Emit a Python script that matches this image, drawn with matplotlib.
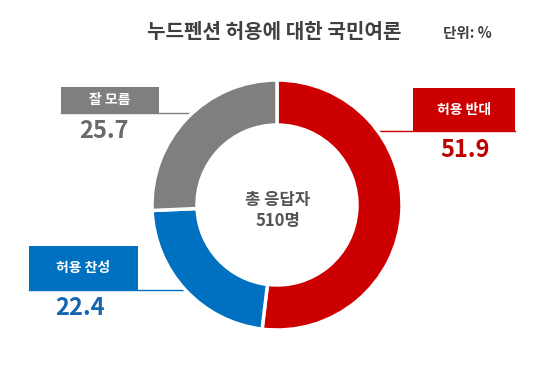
import matplotlib.pyplot as plt
from matplotlib.patches import Rectangle

plt.rcParams['font.family'] = ['Noto Sans CJK KR', 'DejaVu Sans']

title = "누드펜션 허용에 대한 국민여론"
unit = "단위: %"
categories = ["허용 반대", "허용 찬성", "잘 모름"]
values = [51.9, 22.4, 25.7]
colors = ["#cc0000", "#0070c0", "#7f7f7f"]
num_colors = ["#c00000", "#1565b0", "#6a6a6a"]
center_text = ["총 응답자", "510명"]

W, H = 550, 366
fig = plt.figure(figsize=(W / 100, H / 100), dpi=100)
ax = fig.add_axes([0, 0, 1, 1])


def Y(y):
    # image pixel row -> plot coordinate
    return H - y


cx, cy, r = 277, Y(205), 125
ax.pie(values, colors=colors, startangle=90, counterclock=False,
       center=(cx, cy), radius=r,
       wedgeprops=dict(width=45, edgecolor="white", linewidth=2.5))
ax.set_xlim(0, W)
ax.set_ylim(0, H)
ax.set_aspect("equal")
ax.axis("off")

ax.text(274, Y(32), title, ha="center", va="center", fontsize=14.5,
        fontweight="bold", color="#404040")
ax.text(467, Y(33), unit, ha="center", va="center", fontsize=10.5,
        fontweight="bold", color="#404040")

ax.text(278, Y(200), center_text[0], ha="center", va="center",
        fontsize=12, fontweight="bold", color="#555555")
ax.text(278, Y(221), center_text[1], ha="center", va="center",
        fontsize=12, fontweight="bold", color="#555555")

# label boxes in pixels: (left, top, right, bottom), line (x0, x1, y), number centre
boxes = {
    "허용 반대": dict(box=(413, 88, 515, 131), line=(370, 515, 131), num=(465, 150)),
    "허용 찬성": dict(box=(29, 246, 138, 290), line=(29, 187, 290), num=(80, 308)),
    "잘 모름": dict(box=(61, 87, 159, 113), line=(61, 192, 113), num=(104, 131)),
}

for cat, val, col, ncol in zip(categories, values, colors, num_colors):
    b = boxes[cat]
    x0, y0, x1, y1 = b["box"]
    ax.add_patch(Rectangle((x0, Y(y1)), x1 - x0, y1 - y0, facecolor=col,
                           edgecolor="none"))
    ax.text((x0 + x1) / 2, Y((y0 + y1) / 2), cat, ha="center", va="center",
            fontsize=10, fontweight="bold", color="white")
    lx0, lx1, ly = b["line"]
    ax.plot([lx0, lx1], [Y(ly), Y(ly)], color=col, lw=1, zorder=0)
    nx, ny = b["num"]
    ax.text(nx, Y(ny), f"{val}", ha="center", va="center", fontsize=17,
            fontweight="bold", color=ncol)

fig.savefig("out.png", dpi=100, facecolor="white")
